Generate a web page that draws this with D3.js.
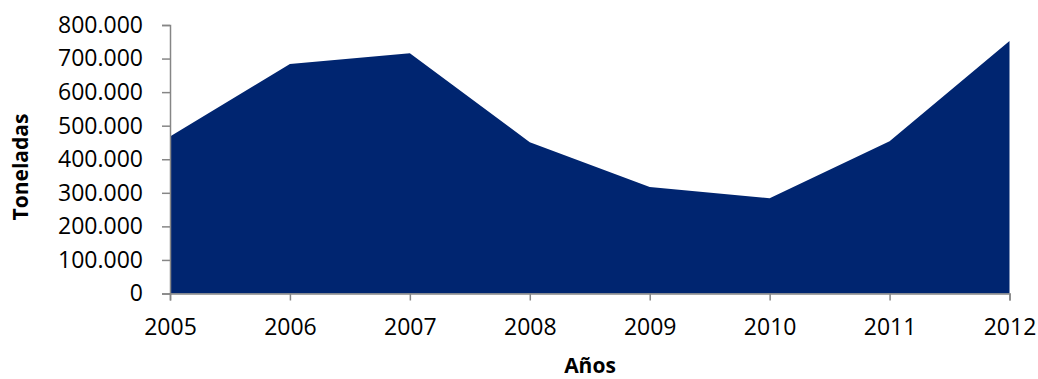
<!DOCTYPE html>
<html>
<head>
<meta charset="utf-8">
<script src="https://cdn.jsdelivr.net/npm/d3@7"></script>
<style>
  html, body { margin: 0; padding: 0; background: #fff; }
  svg { display: block; }
  text { font-family: "Open Sans", "Liberation Sans", sans-serif; fill: #000; }
</style>
</head>
<body>
<svg id="chart" width="1038" height="379"></svg>
<script>
// Producción anual (toneladas)
const years = [2005, 2006, 2007, 2008, 2009, 2010, 2011, 2012];
const tonnes = [468000, 684000, 716000, 451000, 317000, 284000, 454000, 752000];
const yTicks = [0, 100000, 200000, 300000, 400000, 500000, 600000, 700000, 800000];

const svg = d3.select("#chart");
const plotLeft = 170, plotRight = 1009.5, plotTop = 25, plotBottom = 293.5;

const x = d3.scalePoint().domain(years).range([plotLeft, plotRight]);
const y = d3.scaleLinear().domain([0, 800000]).range([plotBottom, plotTop]);

const data = years.map((yr, i) => ({ year: yr, value: tonnes[i] }));

const area = d3.area()
  .x(d => x(d.year))
  .y0(y(0))
  .y1(d => y(d.value));

svg.append("path")
  .datum(data)
  .attr("d", area)
  .attr("fill", "#002570");

const fmt = v => v === 0 ? "0" : d3.format(",")(v).replace(/,/g, ".");

const axisColor = "#868686";

// eje Y
const gy = svg.append("g")
  .attr("transform", `translate(${plotLeft},0)`)
  .call(d3.axisLeft(y).tickValues(yTicks).tickFormat(fmt).tickSize(8).tickPadding(19));
// eje X
const gx = svg.append("g")
  .attr("transform", `translate(0,${plotBottom})`)
  .call(d3.axisBottom(x).tickSize(7).tickPadding(18));

[gx, gy].forEach(g => {
  g.select(".domain").attr("stroke", axisColor).attr("stroke-width", 1.5);
  g.selectAll(".tick line").attr("stroke", axisColor).attr("stroke-width", 1.5);
  g.selectAll(".tick text")
    .attr("font-family", "Open Sans")
    .attr("font-size", 23)
    .attr("fill", "#000");
});

// títulos de ejes
svg.append("text")
  .attr("transform", "translate(28,167) rotate(-90)")
  .attr("text-anchor", "middle")
  .attr("font-size", 21)
  .attr("font-weight", "bold")
  .text("Toneladas");

svg.append("text")
  .attr("x", 590)
  .attr("y", 373)
  .attr("text-anchor", "middle")
  .attr("font-size", 21)
  .attr("font-weight", "bold")
  .text("Años");
</script>
</body>
</html>
